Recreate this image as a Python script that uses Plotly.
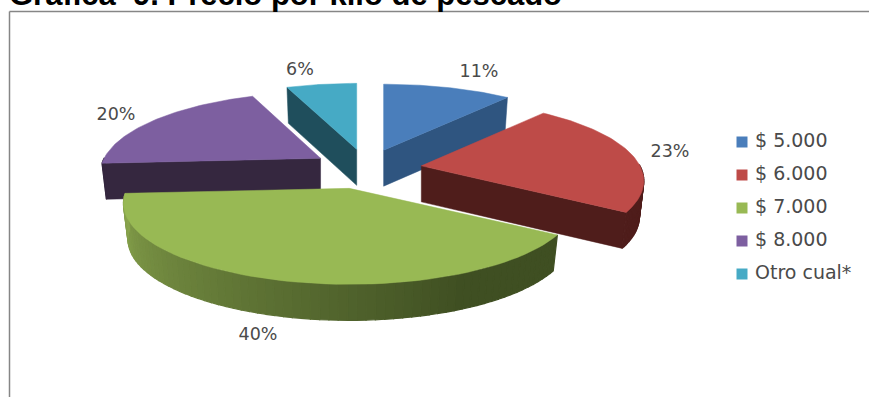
import math
import plotly.graph_objects as go

# Precio por kilo de pescado: share of answers per price band
categories = ["$ 5.000", "$ 6.000", "$ 7.000", "$ 8.000", "Otro cual*"]
shares = [11, 23, 40, 20, 6]
top_colors = ["#4a7ebb", "#be4b48", "#98b954", "#7d5fa0", "#46aac5"]
side_colors = ["#2f5580", "#4f1d1b", "#3f4f22", "#35273f", "#1f4e5c"]
title_text = "Grafica  9. Precio por kilo de pescado"

WIDTH, HEIGHT = 869, 397

# Oblique view of the exploded disc, expressed in canvas pixels
CENTER_X, CENTER_Y = 367.0, 169.0
RADIUS_X, RADIUS_Y = 222.0, 78.2
RADIUS_SCALE = [1.0, 0.985, 1.0, 0.975, 1.0]
NUDGE_X = [-2, 0, -4, 0, 0]
PERSPECTIVE = 0.185
EXPLODE_X, EXPLODE_Y = 55.0, 20.0
DEPTH = 36.0
BASE_SHRINK = 0.98

LABEL_POS = [(479, 73), (670, 153), (258, 336), (116, 116), (300, 71)]
LEGEND_X, LEGEND_Y0, LEGEND_STEP = 742, 142, 33
LABEL_FONT = dict(family="DejaVu Sans", size=17.5, color="#4a4a4a")
LEGEND_FONT = dict(family="DejaVu Sans", size=19, color="#4a4a4a")


def ground(theta, scale=1.0):
    """Project a point of the disc; theta runs clockwise from twelve o'clock."""
    u, v = math.sin(theta), math.cos(theta)
    s = 1.0 / (1.0 + PERSPECTIVE * v)
    return RADIUS_X * scale * u * s, -RADIUS_Y * v * s


def lower(px, py, ax):
    """Same point on the underside of the disc."""
    return ax + (px - ax) * BASE_SHRINK, py + DEPTH


def arc(a0, a1, n=60):
    return [a0 + (a1 - a0) * i / n for i in range(n + 1)]


def poly(fig, pts, color, edge=0.5):
    xs = [p[0] for p in pts] + [pts[0][0]]
    ys = [p[1] for p in pts] + [pts[0][1]]
    fig.add_trace(go.Scatter(x=xs, y=ys, mode="lines", fill="toself", fillcolor=color,
                             line=dict(color=color, width=edge), showlegend=False,
                             hoverinfo="skip"))


def mix(c1, c2, t):
    a = [int(c1[i:i + 2], 16) for i in (1, 3, 5)]
    b = [int(c2[i:i + 2], 16) for i in (1, 3, 5)]
    return "#%02x%02x%02x" % tuple(round(p + (q - p) * t) for p, q in zip(a, b))


fig = go.Figure()

total = sum(shares)
spans = []
start = 0.0
for value in shares:
    end = start + 2 * math.pi * value / total
    spans.append((start, end))
    start = end

# Back slices first so the front ones overlap them
for idx in [4, 0, 3, 1, 2]:
    a0, a1 = spans[idx]
    mid = (a0 + a1) / 2
    scale = RADIUS_SCALE[idx]
    ax = CENTER_X + EXPLODE_X * math.sin(mid) + NUDGE_X[idx]
    ay = CENTER_Y - EXPLODE_Y * math.cos(mid)
    rim = [(ax + p[0], ay + p[1]) for p in (ground(t, scale) for t in arc(a0, a1))]
    apex = (ax, ay)

    # radial wall facing the viewer
    if idx in (0, 1):
        e = rim[-1]
        poly(fig, [apex, e, lower(*e, ax), lower(*apex, ax)], side_colors[idx])
    if idx in (3, 4):
        e = rim[0]
        poly(fig, [apex, e, lower(*e, ax), lower(*apex, ax)], side_colors[idx])

    # curved outer wall, only where the rim faces front
    front = [t for t in arc(a0, a1, 72) if math.cos(t) < 0.02]
    if front:
        for t0, t1 in zip(front[:-1], front[1:]):
            p0 = ground(t0, scale)
            p1 = ground(t1, scale)
            p0 = (ax + p0[0], ay + p0[1])
            p1 = (ax + p1[0], ay + p1[1])
            if idx == 2:
                # shading runs from dark on the right to light on the left
                frac = (t0 - front[0]) / (front[-1] - front[0])
                shade = mix("#3f4f22", "#8aa64e", min(1.0, max(0.0, (frac - 0.22) / 0.78)))
            else:
                shade = side_colors[idx]
            poly(fig, [p0, p1, lower(*p1, ax), lower(*p0, ax)], shade, edge=1.2)

    poly(fig, [apex] + rim, top_colors[idx])

# Percentage labels
fig.add_trace(go.Scatter(
    x=[p[0] for p in LABEL_POS], y=[p[1] for p in LABEL_POS],
    mode="text", text=[f"{v}%" for v in shares], textposition="middle center",
    textfont=LABEL_FONT, showlegend=False, hoverinfo="skip"))

# Legend column
legend_y = [LEGEND_Y0 + i * LEGEND_STEP for i in range(len(categories))]
fig.add_trace(go.Scatter(
    x=[LEGEND_X] * len(categories), y=legend_y, mode="markers",
    marker=dict(symbol="square", size=11, color=top_colors),
    showlegend=False, hoverinfo="skip"))
fig.add_trace(go.Scatter(
    x=[LEGEND_X + 13] * len(categories), y=legend_y, mode="text", text=categories,
    textposition="middle right", textfont=LEGEND_FONT,
    showlegend=False, hoverinfo="skip"))

fig.update_layout(
    width=WIDTH, height=HEIGHT, margin=dict(l=0, r=0, t=0, b=0),
    paper_bgcolor="white", plot_bgcolor="white", showlegend=False,
    xaxis=dict(range=[0, WIDTH], visible=False, fixedrange=True),
    yaxis=dict(range=[HEIGHT, 0], visible=False, fixedrange=True),
    shapes=[
        # chart frame, running off the page to the right and below
        dict(type="line", xref="x", yref="y", x0=9.5, x1=WIDTH, y0=11.5, y1=11.5,
             line=dict(color="#868686", width=1.5)),
        dict(type="line", xref="x", yref="y", x0=9.5, x1=9.5, y0=11.5, y1=HEIGHT,
             line=dict(color="#868686", width=1.5)),
    ],
    annotations=[dict(text=f"<b>{title_text}</b>", xref="x", yref="y", x=8, y=13,
                      xanchor="left", yanchor="bottom", showarrow=False,
                      borderpad=0,
                      font=dict(family="Liberation Sans", size=31, color="black"))],
)

fig.write_html("out.html")
